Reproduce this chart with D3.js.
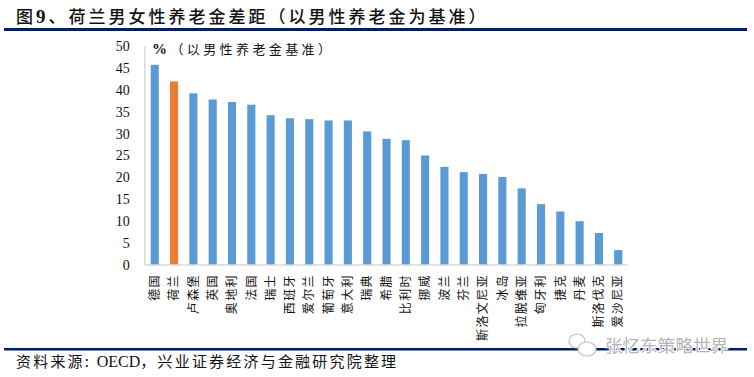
<!DOCTYPE html>
<html lang="zh">

<head>
    <meta charset="UTF-8">
    <title>荷兰男女性养老金差距</title>
    <script src="https://d3js.org/d3.v7.min.js"></script>
    <style>
        html, body { margin: 0; background: #fff; }
        svg { display: block; }
        text { font-family: "Noto Sans CJK SC", serif; fill: #111; }
        .num, .latin { font-family: "Liberation Serif", serif; }
        .axis path { stroke: #d9d9d9; stroke-width: 1.5px; }
        .axis line { display: none; }
    </style>
</head>

<body>
    <svg class="chart" width="754" height="377"></svg>

    <script>
        const countries = ["德国", "荷兰", "卢森堡", "英国", "奥地利", "法国", "瑞士", "西班牙", "爱尔兰", "葡萄牙", "意大利", "瑞典", "希腊", "比利时", "挪威", "波兰", "芬兰", "斯洛文尼亚", "冰岛", "拉脱维亚", "匈牙利", "捷克", "丹麦", "斯洛伐克", "爱沙尼亚"];
        const gaps = [45.7, 41.9, 39.2, 37.8, 37.2, 36.6, 34.2, 33.5, 33.3, 33.0, 33.0, 30.5, 28.8, 28.5, 25.0, 22.4, 21.2, 20.8, 20.1, 17.5, 13.9, 12.2, 10.0, 7.3, 3.4];
        const yTicks = [0, 5, 10, 15, 20, 25, 30, 35, 40, 45, 50];
        const highlight = "荷兰";

        const svg = d3.select(".chart");

        const x = d3.scaleBand()
            .domain(countries)
            .range([145.1, 627.9])
            .paddingInner(0.58)
            .paddingOuter(0.29);

        const y = d3.scaleLinear()
            .domain([0, 50])
            .range([265, 46]);

        // 标题和上下两条深蓝线
        const title = svg.append("text")
            .attr("x", 16).attr("y", 23)
            .style("font-size", "17px")
            .style("letter-spacing", "3px")
            .style("font-weight", "500");
        title.append("tspan").text("图");
        title.append("tspan").attr("class", "latin").style("font-weight", "700").style("font-size", "19px").text("9");
        title.append("tspan").text("、荷兰男女性养老金差距（以男性养老金为基准）");

        svg.append("rect").attr("x", 4).attr("y", 28).attr("width", 743).attr("height", 3).attr("fill", "#002060");
        svg.append("rect").attr("x", 4).attr("y", 348).attr("width", 743).attr("height", 2.5).attr("fill", "#002060");

        svg.selectAll(".bar")
            .data(countries)
            .enter().append("rect")
            .attr("class", "bar")
            .attr("x", d => x(d))
            .attr("width", x.bandwidth())
            .attr("y", (d, i) => y(gaps[i]))
            .attr("height", (d, i) => y(0) - y(gaps[i]))
            .attr("fill", d => d === highlight ? "#ed7d31" : "#5b9bd5");

        svg.append("g")
            .attr("class", "axis")
            .attr("transform", "translate(144.8,0)")
            .call(d3.axisLeft(y).tickValues(yTicks).tickSize(0).tickPadding(15))
            .call(g => g.select(".domain").attr("d", "M0,46V265"))
            .selectAll("text")
            .attr("class", "num")
            .style("font-size", "14px");

        svg.append("g")
            .attr("class", "axis")
            .attr("transform", "translate(0,265)")
            .call(d3.axisBottom(x).tickSize(0))
            .call(g => g.select(".domain").attr("d", "M144.8,0H627.6"))
            .selectAll("text")
            .attr("transform", "rotate(-90)")
            .attr("x", -9)
            .attr("y", 0)
            .attr("dy", "0.35em")
            .style("text-anchor", "end")
            .style("font-size", "12px")
            .style("letter-spacing", "1.4px");

        const unit = svg.append("text")
            .attr("x", 152).attr("y", 54)
            .style("font-size", "13px")
            .style("letter-spacing", "3.4px");
        unit.append("tspan").attr("class", "latin").style("font-size", "15px").style("font-weight", "700").text("%");
        unit.append("tspan").text("（以男性养老金基准）");

        const source = svg.append("text")
            .attr("x", 16).attr("y", 367)
            .style("font-size", "15px")
            .style("letter-spacing", "2.2px");
        source.append("tspan").text("资料来源: ");
        source.append("tspan").attr("class", "latin").style("font-size", "16px").style("letter-spacing", "0").text("OECD");
        source.append("tspan").text("，兴业证券经济与金融研究院整理");

        // 水印
        const mark = svg.append("g").attr("fill", "#fff").attr("stroke", "#c4c4c4").attr("stroke-width", 1.2);
        mark.append("ellipse").attr("cx", 577).attr("cy", 341).attr("rx", 8).attr("ry", 7);
        mark.append("ellipse").attr("cx", 587).attr("cy", 349).attr("rx", 9).attr("ry", 7);

        svg.append("text")
            .attr("x", 605).attr("y", 352)
            .style("font-size", "17.6px")
            .style("fill", "#b5b5b5")
            .style("stroke", "#fff")
            .style("stroke-width", "2px")
            .style("paint-order", "stroke")
            .text("张忆东策略世界");
    </script>
</body>

</html>
